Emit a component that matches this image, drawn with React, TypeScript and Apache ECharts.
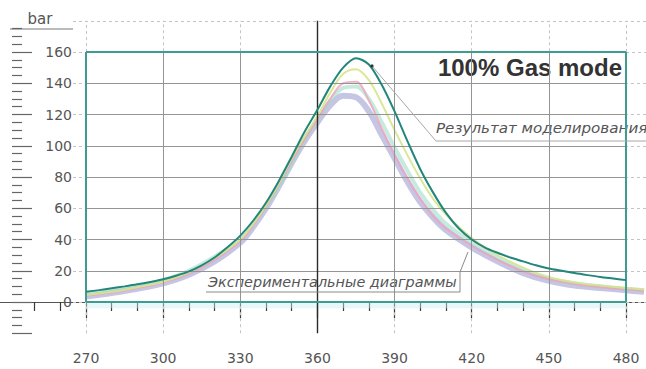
import { useEffect, useRef } from "react";
import * as echarts from "echarts";

// Crank angle (deg) and cylinder pressure (bar)
const simAngle = [270, 275, 280, 285, 290, 295, 300, 305, 310, 315, 320, 325, 330, 335, 340, 345, 350, 355, 360, 365, 370, 375, 380, 385, 390, 395, 400, 405, 410, 415, 420, 425, 430, 435, 440, 445, 450, 455, 460, 465, 470, 475, 480];
const simPressure = [6.5, 7.6, 8.8, 10, 11.3, 12.8, 14.5, 16.8, 19.6, 23.5, 28.5, 35, 42.5, 52, 63.5, 77.5, 93, 109, 123, 138, 150, 156, 152, 139, 122, 103, 85, 70, 57, 47, 40, 35, 31.5, 28.5, 26, 23.5, 21.5, 20, 18.5, 17.2, 16, 15, 14];

const expAngle = [270, 280, 290, 300, 310, 320, 330, 335, 340, 345, 350, 355, 360, 365, 370, 375, 380, 385, 390, 395, 400, 405, 410, 420, 430, 440, 450, 460, 470, 480, 487];
const expRunA = [3.5, 5.8, 8.5, 12, 17.5, 26, 38, 48, 60, 74, 89, 103, 115, 126, 132, 131, 122, 107, 92, 77, 64, 54, 46, 35, 26, 18.5, 13.5, 10.5, 9, 7.5, 6.5];
const expRunB = [4, 6, 9, 12.5, 18, 27, 39, 49, 61, 75, 90, 104, 117, 130, 140, 141, 129, 111, 94, 79, 66, 55, 47, 36, 27, 19.5, 14.5, 11.5, 9.5, 8, 7];
const expRunC = [4.5, 6.5, 9.5, 13, 19, 28, 40, 50, 62, 76, 92, 106, 119, 134, 146, 149, 142, 127, 110, 94, 79, 66, 56, 41, 30, 22, 16, 12.5, 10.5, 9, 8];
const expRunD = [5, 7.5, 10.5, 14, 20, 29, 40, 50, 61, 74, 89, 104, 117, 129, 137, 138, 130, 115, 99, 84, 70, 59, 50, 38, 28.5, 20.5, 15, 12, 10, 8.5, 7.5];

const xTickValues = [270, 300, 330, 360, 390, 420, 450, 480];
const xMinorValues = [250, 260, 280, 290, 310, 320, 340, 350, 370, 380, 400, 410, 430, 440, 460, 470];
const yTickValues = [0, 20, 40, 60, 80, 100, 120, 140, 160];

const W = 646;
const H = 369;
const PX_PER_DEG = 540 / 210;
const X_MIN = 270 - 86 / PX_PER_DEG;
const X_MAX = 480 + (W - 626) / PX_PER_DEG;
const Y_MIN = -20;
const Y_MAX = 180;
const BOX = { x0: 270, x1: 480, y0: 0, y1: 160 };

const pairs = (xs: number[], ys: number[]) => xs.map((x, i) => [x, ys[i]]);

type LS = { color: string; width: number; type?: any };
const seg = (x1: number, y1: number, x2: number, y2: number, ls: LS) => [
  { coord: [x1, y1], lineStyle: ls },
  { coord: [x2, y2], lineStyle: ls },
];

const dashed: LS = { color: "#c4c4c4", width: 1, type: [3, 3] };
const inner: LS = { color: "#949494", width: 1, type: "solid" };
const centre: LS = { color: "#2b2b2b", width: 1.4, type: "solid" };
const frame: LS = { color: "#3e9c91", width: 2, type: "solid" };

function buildGridLines() {
  const labelEnd = 270 - 13 / PX_PER_DEG;
  const out: any[] = [];
  out.push(seg(labelEnd, Y_MAX, X_MAX, Y_MAX, dashed));
  yTickValues.forEach((v) => {
    if (v === BOX.y0 || v === BOX.y1) {
      out.push(seg(labelEnd, v, BOX.x0, v, dashed));
      out.push(seg(BOX.x1, v, X_MAX, v, dashed));
    } else {
      out.push(seg(labelEnd, v, X_MAX, v, dashed));
      out.push(seg(BOX.x0, v, BOX.x1, v, inner));
    }
  });
  xTickValues.forEach((x) => {
    if (x === 360) return;
    if (x === BOX.x0 || x === BOX.x1) {
      out.push(seg(x, Y_MIN, x, BOX.y0, dashed));
      out.push(seg(x, BOX.y1, x, Y_MAX, dashed));
    } else {
      out.push(seg(x, Y_MIN, x, Y_MAX, dashed));
      out.push(seg(x, BOX.y0, x, BOX.y1, inner));
    }
  });
  out.push(seg(360, Y_MIN, 360, Y_MAX, centre));
  return out;
}

function buildFrame() {
  return [
    seg(BOX.x0, BOX.y0, BOX.x1, BOX.y0, frame),
    seg(BOX.x1, BOX.y0, BOX.x1, BOX.y1, frame),
    seg(BOX.x1, BOX.y1, BOX.x0, BOX.y1, frame),
    seg(BOX.x0, BOX.y1, BOX.x0, BOX.y0, frame),
  ];
}

const majorY: number[] = [];
const minorY: number[] = [];
for (let v = -20; v <= 175; v += 5) {
  if (v % 20 === 0) majorY.push(v);
  else minorY.push(v);
}

const labelFont = "DejaVu Sans";
const capFont = "DejaVu Sans";

function expSeries(name: string, ys: number[], color: string, width: number, opacity: number) {
  return {
    name,
    type: "line",
    data: pairs(expAngle, ys),
    smooth: 0.35,
    symbol: "none",
    z: 3,
    silent: true,
    lineStyle: { color, width, opacity },
  };
}

export default function App() {
  const ref = useRef<HTMLDivElement>(null);

  useEffect(() => {
    if (!ref.current) return;
    const chart = echarts.init(ref.current, null, { renderer: "svg" });
    const xBase = {
      type: "value",
      min: X_MIN,
      max: X_MAX,
      position: "bottom",
      splitLine: { show: false },
    };
    const yBase = {
      type: "value",
      min: Y_MIN,
      max: Y_MAX,
      position: "left",
      offset: -12,
      axisLine: { show: false },
      splitLine: { show: false },
    };
    chart.setOption({
      animation: false,
      backgroundColor: "#ffffff",
      grid: { left: 0, width: W, top: 20.75, height: 312.5 },
      xAxis: [
        {
          ...xBase,
          axisLine: { show: true, lineStyle: { color: "#555", width: 1.2 } },
          axisTick: { show: true, customValues: xTickValues, length: 16, lineStyle: { color: "#3a3a3a", width: 1.2 } },
          axisLabel: { customValues: xTickValues, margin: 18, fontSize: 14, color: "#555", fontFamily: labelFont },
        },
        {
          ...xBase,
          axisLine: { show: false },
          axisTick: { show: true, customValues: xMinorValues, length: 9, lineStyle: { color: "#3a3a3a", width: 1.2 } },
          axisLabel: { show: false },
        },
      ],
      yAxis: [
        {
          ...yBase,
          axisTick: { show: true, inside: true, customValues: majorY, length: 20, lineStyle: { color: "#666", width: 1.2 } },
          axisLabel: {
            inside: true,
            margin: 60,
            align: "right",
            customValues: yTickValues,
            fontSize: 14,
            color: "#555",
            fontFamily: labelFont,
          },
        },
        {
          ...yBase,
          axisTick: { show: true, inside: true, customValues: minorY, length: 10, lineStyle: { color: "#666", width: 1.2 } },
          axisLabel: { show: false },
        },
      ],
      series: [
        {
          name: "grid",
          type: "line",
          data: [],
          z: 1,
          silent: true,
          markArea: {
            silent: true,
            label: { show: false },
            data: [
              [
                { coord: [BOX.x0, BOX.y0], itemStyle: { color: "rgba(205,240,240,0.45)" } },
                { coord: [BOX.x1, BOX.y0 - 4] },
              ],
            ],
          },
          markLine: {
            silent: true,
            symbol: ["none", "none"],
            label: { show: false },
            data: buildGridLines(),
          },
        },
        expSeries("Эксп. 1", expRunA, "rgba(150,150,205,1)", 6, 0.55),
        expSeries("Эксп. 2", expRunD, "rgba(160,222,200,1)", 4, 0.6),
        expSeries("Эксп. 3", expRunB, "rgba(240,160,190,1)", 2, 0.8),
        expSeries("Эксп. 4", expRunC, "rgba(214,228,140,1)", 2, 0.9),
        {
          name: "frame",
          type: "line",
          data: [],
          z: 4,
          silent: true,
          markLine: {
            silent: true,
            symbol: ["none", "none"],
            label: { show: false },
            data: buildFrame(),
          },
        },
        {
          name: "Результат моделирования",
          type: "line",
          data: pairs(simAngle, simPressure),
          smooth: 0.3,
          symbol: "none",
          z: 5,
          silent: true,
          lineStyle: { color: "#22877a", width: 2 },
        },
      ],
      graphic: [
        {
          type: "text",
          x: 40,
          y: 19,
          style: { text: "bar", fontSize: 15, fontFamily: labelFont, fill: "#555", align: "center", verticalAlign: "middle" },
        },
        { type: "line", shape: { x1: 10, y1: 29, x2: 73, y2: 29 }, style: { stroke: "#777", lineWidth: 1.2 } },
        {
          type: "text",
          x: 622,
          y: 67,
          style: {
            text: "100% Gas mode",
            fontSize: 24,
            fontWeight: "bold",
            fontFamily: "Liberation Sans",
            fill: "#333",
            align: "right",
            verticalAlign: "middle",
          },
        },
        {
          type: "polyline",
          shape: { points: [[372, 66], [436, 141], [646, 141]] },
          style: { stroke: "#a8a8a8", lineWidth: 1, fill: "none" },
          z: 10,
        },
        { type: "circle", shape: { cx: 372, cy: 66, r: 1.6 }, style: { fill: "#333" }, z: 11 },
        {
          type: "text",
          x: 436,
          y: 128,
          scaleX: 1.08,
          style: {
            text: "Результат моделирования",
            fontSize: 14,
            fontStyle: "italic",
            fontFamily: capFont,
            fill: "#555",
            align: "left",
            verticalAlign: "middle",
          },
        },
        {
          type: "polyline",
          shape: { points: [[206, 292], [460, 292], [460, 272], [468, 252]] },
          style: { stroke: "#8a8a8a", lineWidth: 1, fill: "none" },
          z: 10,
        },
        {
          type: "text",
          x: 208,
          y: 282,
          scaleX: 1.03,
          style: {
            text: "Экспериментальные диаграммы",
            fontSize: 14,
            fontStyle: "italic",
            fontFamily: capFont,
            fill: "#555",
            align: "left",
            verticalAlign: "middle",
          },
        },
      ],
    });
    return () => chart.dispose();
  }, []);

  return (
    <div
      ref={ref}
      style={{ position: "fixed", left: 0, top: 0, width: W, height: H }}
    />
  );
}
